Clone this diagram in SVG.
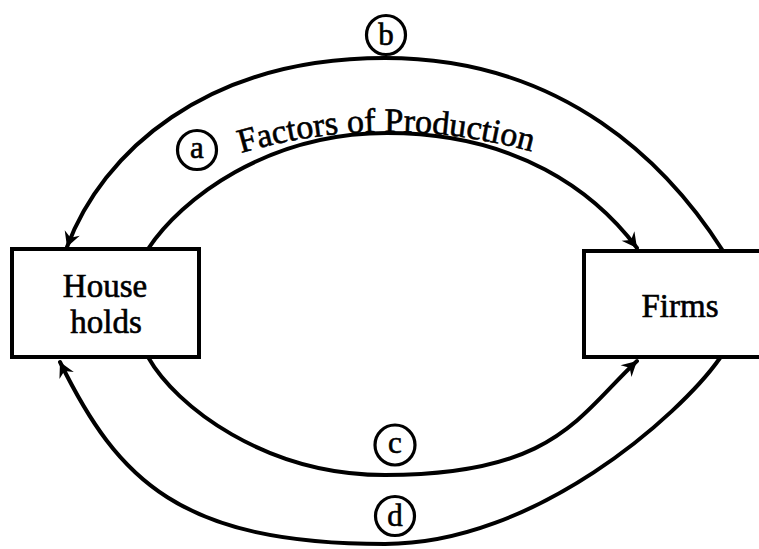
<svg xmlns="http://www.w3.org/2000/svg" width="759" height="549" viewBox="0 0 759 549">
<style>
.box{fill:#fff;stroke:#000;stroke-width:4}
.lbl{font-family:"Liberation Serif","Times New Roman",serif;font-size:33px;fill:#000;stroke:#000;stroke-width:0.6}
.flow{fill:none;stroke:#000;stroke-width:4;stroke-linecap:round}
.tag circle{fill:#fff;stroke:#000;stroke-width:3.2}
.tag text{font-family:"Liberation Serif","Times New Roman",serif;font-size:31px;fill:#000;stroke:#000;stroke-width:0.6;text-anchor:middle}
</style>
<defs>
<marker id="arr" markerUnits="userSpaceOnUse" markerWidth="22" markerHeight="22" viewBox="-18 -11 22 22" refX="1" refY="0" orient="auto">
<path d="M 1 0 L -14 -8 L -9 0 L -14 8 Z" fill="#000"/>
</marker>
<path id="fpPath" d="M 238 154 Q 390 108 550 157"/>
</defs>
<g id="connectors">
<path id="flow-b" class="flow" d="M 723 251 C 669 166 565 58 385 58 C 205 58 102 153 67 247" marker-end="url(#arr)"/>
<path id="flow-a" class="flow" d="M 148 249 C 181 199 267 133 387 133 C 517 133 595 192 637 248" marker-end="url(#arr)"/>
<path id="flow-c" class="flow" d="M 148 357 C 175.5 406 265 475 385 475 C 555 475 579 415 637 361" marker-end="url(#arr)"/>
<path id="flow-d" class="flow" d="M 720 358 C 680 415 535 544 385 544 C 180 544 118 480 60 362" marker-end="url(#arr)"/>
<text class="lbl" style="font-size:34px"><textPath href="#fpPath" startOffset="3">Factors of Production</textPath></text>
</g>
<g id="households">
<rect class="box" x="12" y="249" width="187" height="108"/>
<text class="lbl" x="105" y="297" text-anchor="middle">House</text>
<text class="lbl" x="106" y="333" text-anchor="middle">holds</text>
</g>
<g id="firms">
<rect class="box" x="584" y="251" width="200" height="106"/>
<text class="lbl" x="680" y="317" text-anchor="middle">Firms</text>
</g>
<g id="tag-a" class="tag"><circle cx="197" cy="150" r="19.5"/><text x="197" y="158">a</text></g>
<g id="tag-b" class="tag"><circle cx="386" cy="35" r="19.5"/><text x="386" y="45">b</text></g>
<g id="tag-c" class="tag"><circle cx="395" cy="445" r="20"/><text x="395" y="453">c</text></g>
<g id="tag-d" class="tag"><circle cx="395" cy="516" r="19.5"/><text x="395" y="526">d</text></g>
</svg>
